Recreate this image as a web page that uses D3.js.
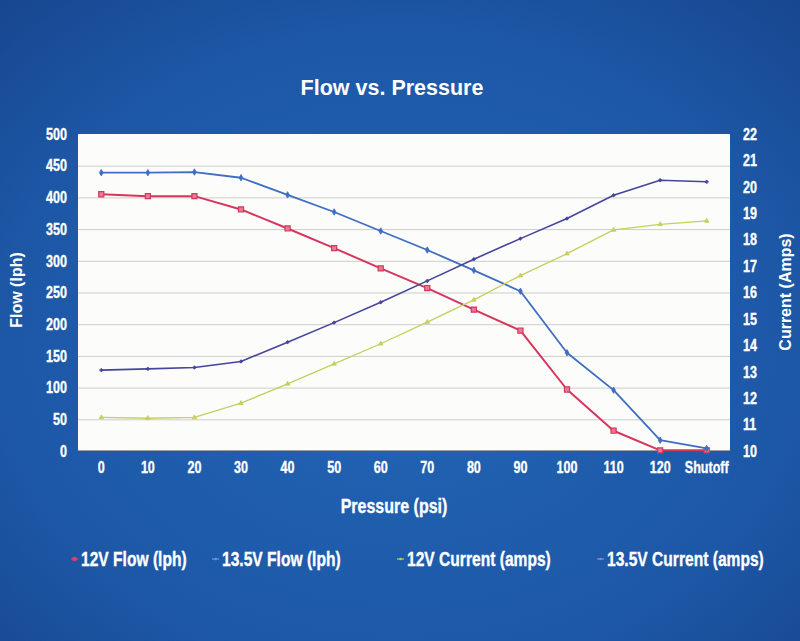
<!DOCTYPE html>
<html>
<head>
<meta charset="utf-8">
<script src="https://cdn.jsdelivr.net/npm/d3@7"></script>
<style>
  body { margin: 0; padding: 0; background: #1c55a2; }
  svg { display: block; }
</style>
</head>
<body>
<div class="chart"></div>
<script>
'use strict';

var pressures = ['0', '10', '20', '30', '40', '50', '60', '70', '80', '90', '100', '110', '120', 'Shutoff'];
var flow12 = [405, 402, 402, 381, 351, 320, 288, 257, 223, 190, 97, 32, 1, 1];
var flow135 = [439, 439, 440, 431, 404, 377, 347, 317, 285, 252, 155, 96, 17, 4];
var current12 = [11.27, 11.24, 11.27, 11.81, 12.54, 13.30, 14.06, 14.88, 15.72, 16.64, 17.47, 18.37, 18.58, 18.71];
var current135 = [13.06, 13.11, 13.16, 13.39, 14.12, 14.86, 15.63, 16.44, 17.26, 18.04, 18.80, 19.68, 20.25, 20.19];
var flowTicks = [0, 50, 100, 150, 200, 250, 300, 350, 400, 450, 500];
var ampTicks = [10, 11, 12, 13, 14, 15, 16, 17, 18, 19, 20, 21, 22];

var W = 800, H = 641;
var margin = {top: 134, right: 70, bottom: 190, left: 78},
  width = W - margin.left - margin.right,
  height = H - margin.top - margin.bottom;

var font = "'Liberation Sans', Arial, sans-serif";

// squeeze bold text horizontally to get the condensed look of the original
function condense(sel, factor) {
  sel.each(function() {
    var len = this.getComputedTextLength();
    d3.select(this)
      .attr('textLength', len * factor)
      .attr('lengthAdjust', 'spacingAndGlyphs')
      .attr('stroke', '#fff')
      .attr('stroke-width', 0.35);
  });
}

var svg = d3.select('.chart').append('svg')
  .attr('width', W)
  .attr('height', H);

// background
var defs = svg.append('defs');
var grad = defs.append('radialGradient')
  .attr('id', 'bg')
  .attr('cx', '50%').attr('cy', '55%').attr('r', '75%');
grad.append('stop').attr('offset', '0%').attr('stop-color', '#2265b5');
grad.append('stop').attr('offset', '65%').attr('stop-color', '#1d58a7');
grad.append('stop').attr('offset', '100%').attr('stop-color', '#17468f');
svg.append('rect')
  .attr('width', W).attr('height', H)
  .attr('fill', 'url(#bg)');

var g = svg.append('g')
  .attr('transform', 'translate(' + margin.left + ',' + margin.top + ')');

var x = d3.scaleBand()
  .domain(pressures)
  .range([0, width])
  .padding(0);

var yFlow = d3.scaleLinear()
  .domain([0, 500])
  .range([height, 0]);

var yAmp = d3.scaleLinear()
  .domain([10, 22])
  .range([height, 0]);

function cx(d, i) {
  return x(pressures[i]) + x.bandwidth() / 2;
}

// plot area
g.append('rect')
  .attr('width', width)
  .attr('height', height)
  .attr('fill', '#fcfcfa');

g.selectAll('.grid')
  .data(flowTicks.slice(1, -1))
  .enter().append('line')
  .attr('class', 'grid')
  .attr('x1', 0).attr('x2', width)
  .attr('y1', function(d) { return yFlow(d) + 0.5; })
  .attr('y2', function(d) { return yFlow(d) + 0.5; })
  .attr('stroke', '#cdcdcd')
  .attr('stroke-width', 1);

g.append('line')
  .attr('x1', 0).attr('x2', width)
  .attr('y1', height - 0.5).attr('y2', height - 0.5)
  .attr('stroke', '#9aa0aa');

// axes (text only, no lines)
var axisLeft = g.append('g')
  .call(d3.axisLeft(yFlow).tickValues(flowTicks).tickSize(0).tickPadding(11));
var axisRight = g.append('g')
  .attr('transform', 'translate(' + width + ',0)')
  .call(d3.axisRight(yAmp).tickValues(ampTicks).tickSize(0).tickPadding(13));
var axisBottom = g.append('g')
  .attr('transform', 'translate(0,' + height + ')')
  .call(d3.axisBottom(x).tickSize(0).tickPadding(10));

[axisLeft, axisRight, axisBottom].forEach(function(a) {
  a.select('.domain').remove();
  a.selectAll('text')
    .style('font-size', '16.5px')
    .style('font-family', font)
    .style('font-weight', 'bold')
    .attr('fill', '#fff')
    .call(condense, 0.76);
});

// series
var series = [
  {name: '12V Flow (lph)', values: flow12, y: yFlow, color: '#d6365c', width: 2, marker: 'square'},
  {name: '13.5V Flow (lph)', values: flow135, y: yFlow, color: '#3f6dc2', width: 1.8, marker: 'diamond'},
  {name: '12V Current (amps)', values: current12, y: yAmp, color: '#c6cf5c', width: 1.3, marker: 'triangle'},
  {name: '13.5V Current (amps)', values: current135, y: yAmp, color: '#45459c', width: 1.6, marker: 'dash'}
];

var symbols = {
  square: d3.symbol().type(d3.symbolSquare).size(26),
  diamond: d3.symbol().type(d3.symbolDiamond).size(12),
  triangle: d3.symbol().type(d3.symbolTriangle).size(9),
  dash: d3.symbol().type(d3.symbolCross).size(5)
};

series.forEach(function(s) {
  var line = d3.line()
    .x(cx)
    .y(function(d) { return s.y(d); });

  g.append('path')
    .datum(s.values)
    .attr('fill', 'none')
    .attr('stroke', s.color)
    .attr('stroke-width', s.width)
    .attr('stroke-linejoin', 'round')
    .attr('d', line);

  g.selectAll('.pt-' + s.marker)
    .data(s.values)
    .enter().append('path')
    .attr('class', 'pt-' + s.marker)
    .attr('transform', function(d, i) {
      return 'translate(' + cx(d, i) + ',' + s.y(d) + ')';
    })
    .attr('d', symbols[s.marker])
    .attr('fill', s.marker === 'square' ? '#e77b95' : s.color)
    .attr('stroke', s.color)
    .attr('stroke-width', s.marker === 'square' ? 1.2 : 0.8);
});

// title
svg.append('text')
  .attr('x', 392)
  .attr('y', 95)
  .attr('text-anchor', 'middle')
  .style('font-family', font)
  .style('font-weight', 'bold')
  .style('font-size', '21.5px')
  .attr('fill', '#fff')
  .text('Flow vs. Pressure');

// axis titles
svg.append('text')
  .attr('transform', 'translate(22,290) rotate(-90)')
  .attr('text-anchor', 'middle')
  .style('font-family', font)
  .style('font-weight', 'bold')
  .style('font-size', '16px')
  .attr('fill', '#fff')
  .text('Flow (lph)');

svg.append('text')
  .attr('transform', 'translate(791,292) rotate(-90)')
  .attr('text-anchor', 'middle')
  .style('font-family', font)
  .style('font-weight', 'bold')
  .style('font-size', '16px')
  .attr('fill', '#fff')
  .text('Current (Amps)');

svg.append('text')
  .attr('x', 394)
  .attr('y', 513)
  .attr('text-anchor', 'middle')
  .style('font-family', font)
  .style('font-weight', 'bold')
  .style('font-size', '20px')
  .attr('fill', '#fff')
  .text('Pressure (psi)')
  .call(condense, 0.8);

// legend
var legendX = [81, 222, 407, 607];
var legendMarkColor = ['#e0406a', '#6f94d2', '#b9cf6a', '#7d92cc'];
var legend = svg.selectAll('.legend')
  .data(series)
  .enter().append('g')
  .attr('class', 'legend')
  .attr('transform', function(d, i) {
    return 'translate(' + legendX[i] + ',559)';
  });

legend.append('line')
  .attr('x1', -10).attr('x2', -3)
  .attr('y1', 0).attr('y2', 0)
  .attr('stroke', function(d, i) { return legendMarkColor[i]; })
  .attr('stroke-width', 1.2);

legend.append('circle')
  .attr('cx', -6.5).attr('cy', 0)
  .attr('r', function(d, i) { return i === 0 ? 2.3 : 1.2; })
  .attr('fill', function(d, i) { return legendMarkColor[i]; });

// legend labels squeezed with a transform so their box stays true
legend.append('g')
  .attr('transform', 'scale(0.78,1)')
  .append('text')
  .attr('x', 0)
  .attr('y', 7)
  .style('font-family', font)
  .style('font-weight', 'bold')
  .style('font-size', '20px')
  .attr('fill', '#fff')
  .attr('stroke', '#fff')
  .attr('stroke-width', 0.35)
  .text(function(d) { return d.name; });
</script>
</body>
</html>
